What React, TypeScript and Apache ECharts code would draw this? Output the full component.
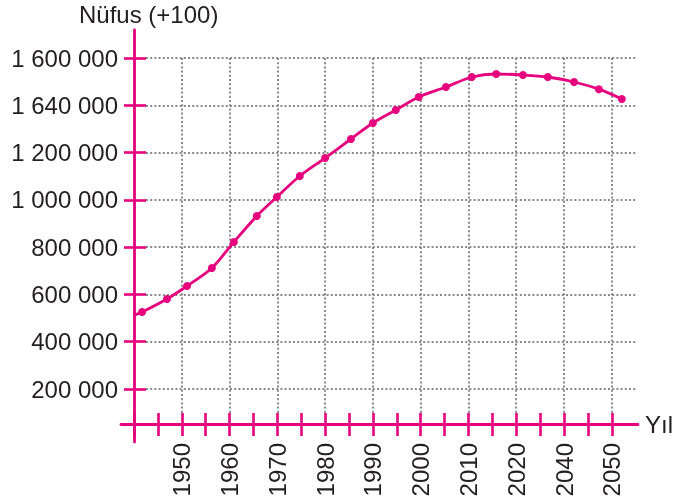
import React, { useEffect, useRef } from "react";
import * as echarts from "echarts";

// ---- data ----
const years = [1940, 1941.7, 1946.9, 1951.1, 1956.3, 1960.9, 1965.7, 1969.9, 1974.7, 1980.0, 1985.4, 1990.0, 1994.8, 1999.6, 2005.3, 2010.7, 2015.8, 2021.4, 2026.6, 2032.1, 2037.3, 2042.1];
const population = [512000, 525700, 580700, 635600, 711800, 821800, 931700, 1012100, 1100900, 1177000, 1257400, 1325100, 1380000, 1435000, 1477300, 1519600, 1532300, 1528100, 1519600, 1498500, 1468100, 1426600];
const yTickValues = [200000, 400000, 600000, 800000, 1000000, 1200000, 1400000, 1600000];
const yTickLabels = ["200 000", "400 000", "600 000", "800 000", "1 000 000", "1 200 000", "1 640 000", "1 600 000"];
const xTickYears = [1950, 1960, 1970, 1980, 1990, 2000, 2010, 2020, 2030, 2040];
const xTickLabels = ["1950", "1960", "1970", "1980", "1990", "2000", "2010", "2020", "2040", "2050"];
const yTitle = "Nüfus (+100)";
const xTitle = "Yıl";

const PINK = "#e6007e";
const GRAY = "#8a8a8a";
const TEXT = "#231f20";
const FONT = "'Liberation Sans', Arial, Helvetica, sans-serif";
const FS = 24;

export default function App() {
  const ref = useRef<HTMLDivElement>(null);
  useEffect(() => {
    if (!ref.current) return;
    const chart = echarts.init(ref.current, undefined, { renderer: "svg" });
    const X0 = 134; // pixel of 1940
    const PX = 4.778; // px per year
    const Y200 = 389; // pixel of 200 000
    const Y1600 = 58; // pixel of 1 600 000
    const AXIS_Y = 424;

    const hidden = { show: false };
    const off = {
      axisLine: { show: false },
      axisTick: { show: false },
      axisLabel: { show: false },
      splitLine: { show: false },
    };
    const data = years.map((y, i) =>
      i === 0 ? { value: [y, population[i]], symbol: "none" } : { value: [y, population[i]] }
    );
    const dotted = { color: GRAY, width: 2, type: [2, 2.2] };

    chart.setOption({
      animation: false,
      title: {
        text: yTitle,
        left: 79,
        top: 2,
        padding: 0,
        textStyle: { fontSize: FS, fontWeight: "normal", color: TEXT, fontFamily: FONT },
      },
      grid: [
        { left: X0, width: 105 * PX, top: Y1600, height: Y200 - Y1600 },
        { left: 146, right: 55, top: Y1600, height: Y200 - Y1600 },
        { left: X0, width: 105 * PX, top: Y1600, height: 413 - Y1600 },
        { left: X0, width: 100, top: 30, height: 442 - 30 },
        { left: 121, width: 638 - 121, top: 100, height: AXIS_Y - 100 },
        { left: X0, width: 100 * PX, top: Y1600, height: AXIS_Y - Y1600 },
      ],
      xAxis: [
        { gridIndex: 0, type: "value", min: 1940, max: 2045, ...off },
        { gridIndex: 1, type: "value", min: 0, max: 1, ...hidden },
        {
          gridIndex: 2,
          type: "value",
          min: 1940,
          max: 2045,
          interval: 10,
          axisLine: { show: false },
          axisTick: { show: false },
          axisLabel: { show: false },
          splitLine: { show: true, showMinLine: false, showMaxLine: false, lineStyle: dotted },
        },
        { gridIndex: 3, type: "value", min: 0, max: 1, ...hidden },
        {
          gridIndex: 4,
          type: "value",
          min: 0,
          max: 1,
          axisLine: { show: true, lineStyle: { color: PINK, width: 2.8 } },
          axisTick: { show: false },
          axisLabel: { show: false },
          splitLine: { show: false },
          name: xTitle,
          nameLocation: "end",
          nameGap: 7,
          nameTextStyle: { fontSize: FS, color: TEXT, fontFamily: FONT, verticalAlign: "middle", padding: [0, 0, 2, 0] },
        },
        {
          gridIndex: 5,
          type: "value",
          position: "bottom",
          min: 1940,
          max: 2040,
          interval: 5,
          axisLine: { show: false },
          axisTick: { show: true, length: 12, lineStyle: { color: PINK, width: 2.6 } },
          axisLabel: {
            show: true,
            rotate: 90,
            margin: 19,
            fontSize: FS,
            color: TEXT,
            fontFamily: FONT,
            formatter: (v: number) => {
              const i = xTickYears.indexOf(v);
              return i >= 0 ? xTickLabels[i] : "";
            },
          },
          splitLine: { show: false },
        },
        {
          gridIndex: 5,
          type: "value",
          position: "bottom",
          min: 1940,
          max: 2040,
          interval: 5,
          axisLine: { show: false },
          axisTick: { show: true, inside: true, length: 11, lineStyle: { color: PINK, width: 2.6 } },
          axisLabel: { show: false },
          splitLine: { show: false },
        },
      ],
      yAxis: [
        {
          gridIndex: 0,
          type: "value",
          position: "left",
          min: 200000,
          max: 1600000,
          interval: 200000,
          axisLine: { show: false },
          axisTick: { show: true, length: 10, lineStyle: { color: PINK, width: 2.6 } },
          axisLabel: {
            show: true,
            margin: 16,
            fontSize: FS,
            color: TEXT,
            fontFamily: FONT,
            formatter: (v: number) => {
              const i = yTickValues.indexOf(v);
              return i >= 0 ? yTickLabels[i] : "";
            },
          },
          splitLine: { show: false },
        },
        {
          gridIndex: 0,
          type: "value",
          position: "left",
          min: 200000,
          max: 1600000,
          interval: 200000,
          axisLine: { show: false },
          axisTick: { show: true, inside: true, length: 12, lineStyle: { color: PINK, width: 2.6 } },
          axisLabel: { show: false },
          splitLine: { show: false },
        },
        {
          gridIndex: 1,
          type: "value",
          min: 200000,
          max: 1600000,
          interval: 200000,
          axisLine: { show: false },
          axisTick: { show: false },
          axisLabel: { show: false },
          splitLine: { show: true, lineStyle: dotted },
        },
        { gridIndex: 2, type: "value", min: 0, max: 1, ...hidden },
        {
          gridIndex: 3,
          type: "value",
          position: "left",
          min: 0,
          max: 1,
          axisLine: { show: true, lineStyle: { color: PINK, width: 2.8 } },
          axisTick: { show: false },
          axisLabel: { show: false },
          splitLine: { show: false },
        },
        { gridIndex: 4, type: "value", min: 0, max: 1, ...hidden },
        { gridIndex: 5, type: "value", min: 0, max: 1, ...hidden },
      ],
      series: [
        {
          type: "line",
          xAxisIndex: 0,
          yAxisIndex: 0,
          data,
          smooth: 0.3,
          symbol: "circle",
          symbolSize: 8,
          showAllSymbol: true,
          lineStyle: { color: PINK, width: 2.8 },
          itemStyle: { color: PINK },
          z: 10,
        },
      ],
    });
    return () => chart.dispose();
  }, []);
  return <div ref={ref} style={{ position: "fixed", left: 0, top: 0, width: 692, height: 503 }} />;
}
